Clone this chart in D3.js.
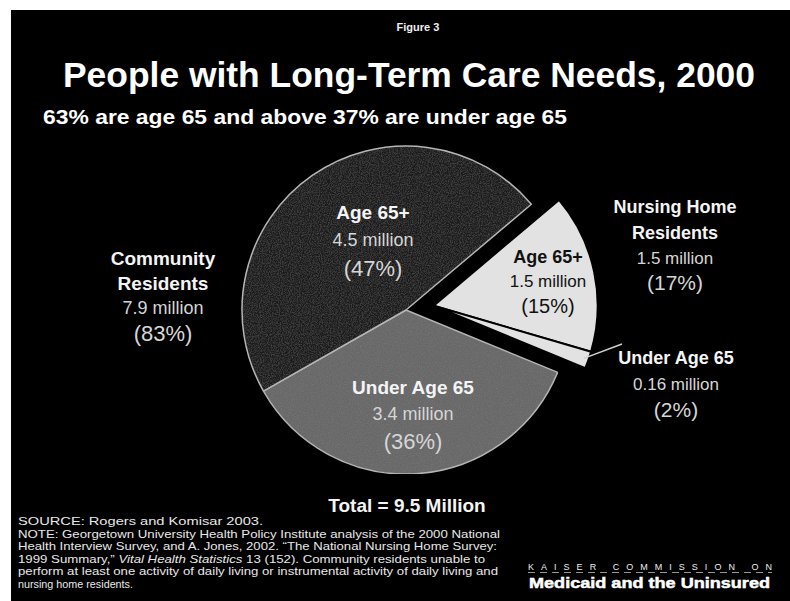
<!DOCTYPE html>
<html>
<head>
<meta charset="utf-8">
<script src="https://cdn.jsdelivr.net/npm/d3@7"></script>
<style>
  body { margin: 0; background: #fff; }
  text { font-family: "Liberation Sans", Arial, sans-serif; }
</style>
</head>
<body>
<script>
// Slices, clockwise from the exploded nursing home wedge
var sliceGroups = ["Nursing Home", "Nursing Home", "Community", "Community"];
var sliceAges = ["Age 65+", "Under Age 65", "Under Age 65", "Age 65+"];
var sliceMillions = [1.5, 0.16, 3.4, 4.5];
var slicePercents = [15, 2, 36, 47];

// Group totals
var groupNames = [["Nursing Home", "Residents"], ["Community", "Residents"]];
var groupMillions = [1.5, 7.9];
var groupPercents = [17, 83];
var totalMillions = 9.5;

var w = 790;
var h = 601;

var svg = d3.select("body")
  .append("svg")
  .attr("width", w)
  .attr("height", h);

// light grain for the scanned look of the pie
var defs = svg.append("defs");
var grain = defs.append("filter").attr("id", "grain")
  .attr("x", 0).attr("y", 0).attr("width", 1).attr("height", 1);
grain.append("feTurbulence")
  .attr("type", "fractalNoise")
  .attr("baseFrequency", 0.9)
  .attr("numOctaves", 2)
  .attr("seed", 3)
  .attr("result", "noise");
grain.append("feColorMatrix")
  .attr("in", "noise")
  .attr("type", "matrix")
  .attr("values", "0 0 0 0 0.5  0 0 0 0 0.5  0 0 0 0 0.5  0.22 0 0 0 -0.08")
  .attr("result", "speck");
grain.append("feComposite")
  .attr("in", "speck").attr("in2", "SourceGraphic")
  .attr("operator", "in")
  .attr("result", "speckIn");
grain.append("feMerge").call(function(m){
  m.append("feMergeNode").attr("in", "SourceGraphic");
  m.append("feMergeNode").attr("in", "speckIn");
});

// black slide with thin white scan margin
svg.append("rect")
  .attr("x", 11).attr("y", 10)
  .attr("width", w - 11).attr("height", h - 10)
  .attr("fill", "#000");

// Header
svg.append("text")
  .attr("x", 418).attr("y", 31)
  .attr("text-anchor", "middle")
  .attr("font-size", "11px")
  .attr("font-weight", "bold")
  .attr("fill", "#eee")
  .text("Figure 3");

svg.append("text")
  .attr("x", 63).attr("y", 87)
  .attr("font-size", "35px")
  .attr("font-weight", "bold")
  .attr("fill", "#fff")
  .attr("textLength", 692)
  .attr("lengthAdjust", "spacingAndGlyphs")
  .text("People with Long-Term Care Needs, 2000");

svg.append("text")
  .attr("x", 43).attr("y", 124)
  .attr("font-size", "20px")
  .attr("font-weight", "bold")
  .attr("fill", "#fff")
  .attr("textLength", 524)
  .attr("lengthAdjust", "spacingAndGlyphs")
  .text("63% are age 65 and above 37% are under age 65");

// Pie
var cx = 406, cy = 310, radius = 164;
var explode = 28;

var pie = d3.pie()
  .sort(null)
  .value(function(d){ return d; })
  .startAngle(0.87)
  .endAngle(0.87 + 2 * Math.PI);

var arcs = pie(sliceMillions);
var arc = d3.arc().innerRadius(0).outerRadius(radius);

var sliceFill = ["#e2e2e2", "#e2e2e2", "#686868", "#1f1f1f"];
var sliceStroke = ["#000", "#000", "#b5b5b5", "#b5b5b5"];

// offset of the nursing home wedge along its middle angle
var nhStart = arcs[0].startAngle, nhEnd = arcs[1].endAngle;
var nhMid = (nhStart + nhEnd) / 2;
var nhDx = explode * Math.sin(nhMid);
var nhDy = -explode * Math.cos(nhMid);

var pieG = svg.append("g")
  .attr("transform", "translate(" + cx + "," + cy + ")");

pieG.selectAll("path")
  .data(arcs)
  .enter()
  .append("path")
  .attr("d", arc)
  .attr("transform", function(d, i){
    return sliceGroups[i] == "Nursing Home" ? "translate(" + nhDx + "," + nhDy + ")" : null;
  })
  .attr("fill", function(d, i){ return sliceFill[i]; })
  .attr("filter", function(d, i){ return i < 2 ? null : "url(#grain)"; })
  .attr("stroke", function(d, i){ return sliceStroke[i]; })
  .attr("stroke-width", function(d, i){ return i < 2 ? 2 : 1.5; })
  .attr("stroke-linejoin", "round");

// leader line from the small slice to its label
var small = arcs[1];
var smallMid = (small.startAngle + small.endAngle) / 2;
var lx = nhDx + radius * 0.97 * Math.sin(smallMid);
var ly = nhDy - radius * 0.97 * Math.cos(smallMid);
svg.append("line")
  .attr("x1", cx + lx).attr("y1", cy + ly)
  .attr("x2", 622).attr("y2", 344)
  .attr("stroke", "#d0d0d0")
  .attr("stroke-width", 1.5);

// Label helper: lines = [text, bold, size, color]
function label(x, y, lines, gap) {
  var g = svg.append("g");
  lines.forEach(function(l, i){
    g.append("text")
      .attr("x", x)
      .attr("y", y + i * gap)
      .attr("dy", "0.35em")
      .attr("text-anchor", "middle")
      .attr("font-size", l[2] + "px")
      .attr("font-weight", l[1] ? "bold" : "normal")
      .attr("fill", l[3])
      .text(l[0]);
  });
}

function fmt(m) { return m + " million"; }
function pct(p) { return "(" + p + "%)"; }

var boldC = "#f4f4f4", plainC = "#d6d6d6", darkC = "#111";

// inside the main pie
label(373, 212, [
  [sliceAges[3], true, 19, boldC],
  [fmt(sliceMillions[3]), false, 18, plainC],
  [pct(slicePercents[3]), false, 22, plainC]
], 28);

label(413, 387, [
  [sliceAges[2], true, 19, boldC],
  [fmt(sliceMillions[2]), false, 18, plainC],
  [pct(slicePercents[2]), false, 22, plainC]
], 27);

// inside the exploded wedge
label(548, 257, [
  [sliceAges[0], true, 18, darkC],
  [fmt(sliceMillions[0]), false, 17, darkC],
  [pct(slicePercents[0]), false, 20, darkC]
], 24.5);

// Group labels
label(163, 258, [
  [groupNames[1][0], true, 19, boldC],
  [groupNames[1][1], true, 19, boldC],
  [fmt(groupMillions[1]), false, 18, plainC],
  [pct(groupPercents[1]), false, 22, plainC]
], 25);

label(675, 207, [
  [groupNames[0][0], true, 18, boldC],
  [groupNames[0][1], true, 18, boldC],
  [fmt(groupMillions[0]), false, 17, plainC],
  [pct(groupPercents[0]), false, 21, plainC]
], 25.3);

label(676, 358, [
  [sliceAges[1], true, 18, boldC],
  [fmt(sliceMillions[1]), false, 17, plainC],
  [pct(slicePercents[1]), false, 21, plainC]
], 26);

svg.append("text")
  .attr("x", 407).attr("y", 505)
  .attr("dy", "0.35em")
  .attr("text-anchor", "middle")
  .attr("font-size", "19px")
  .attr("font-weight", "bold")
  .attr("fill", boldC)
  .text("Total = " + totalMillions + " Million");

// Footnote, each line stretched to the width it has on the slide
var notes = [
  ["SOURCE: Rogers and Komisar 2003."],
  ["NOTE:  Georgetown University Health Policy Institute analysis of the 2000 National"],
  ["Health Interview Survey, and A. Jones, 2002. \u201CThe National Nursing Home Survey:"],
  ["1999 Summary,\u201D ", "Vital Health Statistics", " 13 (152).  Community residents unable to"],
  ["perform at least one activity of daily living or instrumental activity of daily living and"],
  ["nursing home residents."]
];
var noteWidths = [245, 482, 479, 467, 480, 115];
var noteG = svg.append("g");
notes.forEach(function(parts, i){
  var t = noteG.append("text")
    .attr("x", 18)
    .attr("y", 525 + i * 12.6)
    .attr("font-size", "11px")
    .attr("fill", "#e8e8e8")
    .attr("textLength", noteWidths[i])
    .attr("lengthAdjust", "spacingAndGlyphs");
  parts.forEach(function(p, j){
    t.append("tspan")
      .attr("font-style", j == 1 ? "italic" : "normal")
      .text(p);
  });
});

// Logo
svg.append("text")
  .attr("x", 528).attr("y", 570)
  .attr("font-size", "9px")
  .attr("fill", "#eee")
  .attr("textLength", 244)
  .attr("lengthAdjust", "spacing")
  .text("KAISER COMMISSION ON");
svg.append("line")
  .attr("x1", 528).attr("x2", 772)
  .attr("y1", 572.5).attr("y2", 572.5)
  .attr("stroke", "#bbb")
  .attr("stroke-width", 0.8)
  .attr("stroke-dasharray", "7,5");
svg.append("text")
  .attr("x", 529).attr("y", 588)
  .attr("font-size", "15px")
  .attr("font-weight", "bold")
  .attr("fill", "#fff")
  .attr("stroke", "#fff")
  .attr("stroke-width", 0.5)
  .attr("textLength", 241)
  .attr("lengthAdjust", "spacingAndGlyphs")
  .text("Medicaid and the Uninsured");
</script>
</body>
</html>
